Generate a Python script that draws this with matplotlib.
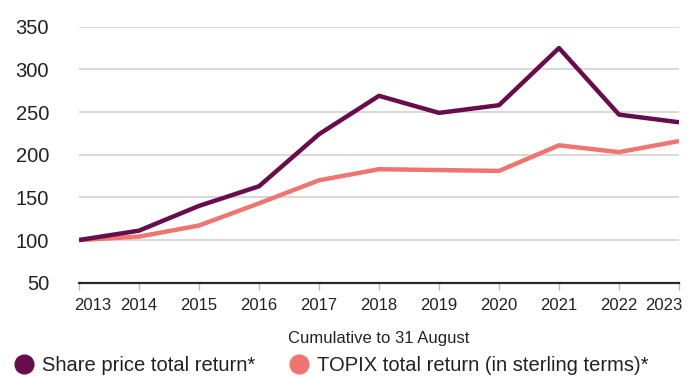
import matplotlib.pyplot as plt
from matplotlib.lines import Line2D
import matplotlib.transforms as mtransforms

plt.rcParams['font.family'] = ['Liberation Sans', 'DejaVu Sans']

years = [2013, 2014, 2015, 2016, 2017, 2018, 2019, 2020, 2021, 2022, 2023]
share_price = [100, 111, 140, 163, 224, 269, 249, 258, 325, 247, 238]
topix = [100, 104, 117, 143, 170, 183, 182, 181, 211, 203, 216]
yticks = [50, 100, 150, 200, 250, 300, 350]

purple = '#680d4c'
salmon = '#ef7571'
text_col = '#222222'

fig = plt.figure(figsize=(6.88, 3.76), dpi=100)
ax = fig.add_axes([79 / 688, 1 - 282.7 / 376, 600 / 688, 256 / 376])

ax.plot(years, topix, color=salmon, lw=3.2, solid_capstyle='butt', zorder=3)
ax.plot(years, share_price, color=purple, lw=3.2, solid_capstyle='butt', zorder=4)

ax.set_xlim(years[0], years[-1])
ax.set_ylim(50, 350)
ax.set_yticks(yticks)
ax.set_xticks(years)
ax.set_xticklabels([str(y) for y in years])
ax.grid(axis='y', color='#d6d6d6', lw=1.3)
ax.set_axisbelow(True)

for s in ['top', 'right', 'left']:
    ax.spines[s].set_visible(False)
ax.spines['bottom'].set_color('#2a2a2a')
ax.spines['bottom'].set_linewidth(1.6)
ax.spines['bottom'].set_zorder(5)

ax.tick_params(axis='y', length=0, pad=21.5, labelsize=14.5, labelcolor=text_col)
ax.tick_params(axis='x', length=5, width=1, color='#bbbbbb', pad=6,
               labelsize=12, labelcolor=text_col)

# keep the end labels inside the plotting area
xlabs = ax.get_xticklabels()
xlabs[0].set_horizontalalignment('left')
xlabs[0].set_transform(xlabs[0].get_transform() +
                       mtransforms.ScaledTranslation(-5 / 100, 0, fig.dpi_scale_trans))
xlabs[-1].set_horizontalalignment('right')
xlabs[-1].set_transform(xlabs[-1].get_transform() +
                        mtransforms.ScaledTranslation(3 / 100, 0, fig.dpi_scale_trans))

ax.set_xlabel('Cumulative to 31 August', fontsize=12, color=text_col, labelpad=13)

handles = [
    Line2D([], [], ls='none', marker='o', markersize=13.5, color=purple,
           label='Share price total return*'),
    Line2D([], [], ls='none', marker='o', markersize=13.5, color=salmon,
           label='TOPIX total return (in sterling terms)*'),
]
fig.legend(handles=handles, loc='lower left', bbox_to_anchor=(7 / 688, -0.02),
           ncol=2, frameon=False, fontsize=14.5, handlelength=0.9,
           handletextpad=0.45, columnspacing=1.7, borderaxespad=0,
           labelcolor=text_col)

fig.savefig('out.png', dpi=100)
